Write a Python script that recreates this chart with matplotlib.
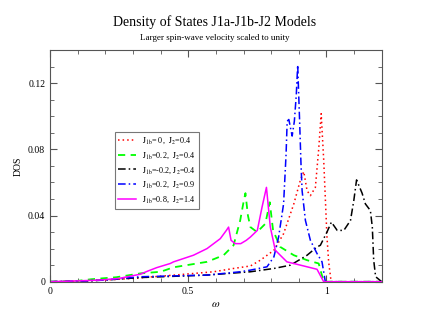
import matplotlib
matplotlib.use('Agg')
import matplotlib.pyplot as plt
from matplotlib.ticker import MultipleLocator

# Serif fonts to look like the xmgrace original
plt.rcParams['font.family'] = ['Liberation Serif', 'DejaVu Serif']
plt.rcParams['mathtext.fontset'] = 'stix'

# Data
# J1b=0, J2=0.4
x_red = [0, 0.1, 0.2, 0.3, 0.45, 0.592, 0.664, 0.725, 0.761, 0.81, 0.845, 0.882, 0.906,
         0.918, 0.93, 0.942, 0.96, 0.972, 0.981, 0.99, 1.002, 1.008, 1.017, 1.2]
y_red = [0, 0.0003, 0.001, 0.002, 0.004, 0.006, 0.008, 0.0095, 0.013, 0.019, 0.029, 0.047, 0.0615,
         0.0665, 0.055, 0.052, 0.057, 0.080, 0.1015, 0.074, 0.027, 0.012, 0.0, 0]

# J1b=0.2, J2=0.4
x_green = [0, 0.1, 0.15, 0.24, 0.326, 0.4, 0.447, 0.568, 0.628, 0.664, 0.688, 0.700, 0.707,
           0.716, 0.725, 0.749, 0.779, 0.795, 0.807, 0.833, 0.882, 0.93, 0.972, 0.99, 1.2]
y_green = [0, 0.0005, 0.0015, 0.0027, 0.005, 0.006, 0.0087, 0.012, 0.016, 0.022, 0.037, 0.048, 0.0535,
           0.040, 0.033, 0.030, 0.035, 0.048, 0.031, 0.021, 0.016, 0.013, 0.011, 0.0, 0]

# J1b=-0.2, J2=0.4
x_black = [0, 0.1, 0.2, 0.326, 0.568, 0.725, 0.81, 0.87, 0.93, 0.966, 0.978, 1.002, 1.018,
           1.039, 1.063, 1.087, 1.099, 1.109, 1.129, 1.141, 1.159, 1.166, 1.171, 1.178, 1.2]
y_black = [0, 0.0003, 0.001, 0.0025, 0.004, 0.006, 0.008, 0.010, 0.016, 0.021, 0.022, 0.030, 0.036,
           0.031, 0.031, 0.037, 0.049, 0.0615, 0.0535, 0.047, 0.043, 0.033, 0.013, 0.003, 0]

# J1b=0.2, J2=0.9
x_blue = [0, 0.1, 0.2, 0.326, 0.568, 0.688, 0.725, 0.785, 0.81, 0.827, 0.845, 0.854, 0.858,
          0.864, 0.876, 0.884, 0.891, 0.896, 0.903, 0.908, 0.912, 0.924, 0.942, 0.966, 0.984, 0.996, 1.2]
y_blue = [0, 0.0003, 0.001, 0.003, 0.004, 0.006, 0.007, 0.009, 0.015, 0.027, 0.047, 0.077, 0.097,
          0.098, 0.088, 0.097, 0.113, 0.131, 0.097, 0.071, 0.055, 0.037, 0.025, 0.017, 0.012, 0.0, 0]

# J1b=0.8, J2=1.4
x_mag = [0, 0.1, 0.18, 0.25, 0.326, 0.355, 0.386, 0.435, 0.447, 0.519, 0.568, 0.616, 0.638, 0.646,
         0.655, 0.67, 0.69, 0.71, 0.725, 0.75, 0.767, 0.783, 0.797, 0.815, 0.857, 0.906, 0.966, 0.99, 1.2]
y_mag = [0, 0.0005, 0.001, 0.002, 0.0045, 0.0065, 0.0085, 0.011, 0.012, 0.016, 0.020, 0.026, 0.031, 0.033,
         0.025, 0.023, 0.023, 0.025, 0.027, 0.031, 0.045, 0.057, 0.033, 0.019, 0.012, 0.010, 0.0075, 0.0, 0]

labels = [r'$\mathrm{J_{1b}}$= 0,  $\mathrm{J_2}$=0.4',
          r'$\mathrm{J_{1b}}$=0.2,  $\mathrm{J_2}$=0.4',
          r'$\mathrm{J_{1b}}$=-0.2, $\mathrm{J_2}$=0.4',
          r'$\mathrm{J_{1b}}$=0.2,  $\mathrm{J_2}$=0.9',
          r'$\mathrm{J_{1b}}$=0.8,  $\mathrm{J_2}$=1.4']

fig = plt.figure(figsize=(4.3, 3.32), dpi=100)
ax = fig.add_axes([0.1163, 0.1515, 0.7714, 0.6979])

ax.plot(x_red, y_red, color='#ff0000', linestyle=(0, (1, 2)), lw=1.1, label=labels[0])
ax.plot(x_green, y_green, color='#00ff00', linestyle=(0, (4, 3)), lw=1.3, label=labels[1])
ax.plot(x_black, y_black, color='black', linestyle=(0, (5, 2, 1, 2)), lw=1.1, label=labels[2])
ax.plot(x_blue, y_blue, color='#0000ff', linestyle=(0, (5, 2, 1, 2)), lw=1.1, label=labels[3])
ax.plot(x_mag, y_mag, color='#ff00ff', linestyle='-', lw=1.1, label=labels[4])

ax.set_xlim(0, 1.2)
ax.set_ylim(0, 0.14)
ax.xaxis.set_major_locator(MultipleLocator(0.5))
ax.xaxis.set_minor_locator(MultipleLocator(0.1))
ax.yaxis.set_major_locator(MultipleLocator(0.04))
ax.yaxis.set_minor_locator(MultipleLocator(0.01))
ax.xaxis.set_major_formatter(plt.FuncFormatter(lambda v, p: '%g' % round(v, 3)))
ax.yaxis.set_major_formatter(plt.FuncFormatter(lambda v, p: '%g' % round(v, 3)))
ax.tick_params(which='both', direction='in', top=True, right=True, labelsize=7, color='#555555')
ax.tick_params(which='major', length=5)
ax.tick_params(which='minor', length=3)
for s in ax.spines.values():
    s.set_color('#555555')

ax.set_xlabel(r'$\omega$', fontsize=8, labelpad=3)
ax.set_ylabel('DOS', fontsize=7, labelpad=4)

fig.text(0.5, 0.934, 'Density of States J1a-J1b-J2 Models', ha='center', va='center', fontsize=10)
fig.text(0.5, 0.886, 'Larger spin-wave velocity scaled to unity', ha='center', va='center', fontsize=6.5)

leg = ax.legend(loc='upper left', bbox_to_anchor=(0.196, 0.646), fontsize=5.9, frameon=True,
                fancybox=False, handlelength=2.2, borderpad=0.4, labelspacing=0.55,
                handletextpad=0.7, borderaxespad=0)
leg.get_frame().set_edgecolor('#555555')
leg.get_frame().set_linewidth(0.8)

fig.savefig('out.png', dpi=100)
